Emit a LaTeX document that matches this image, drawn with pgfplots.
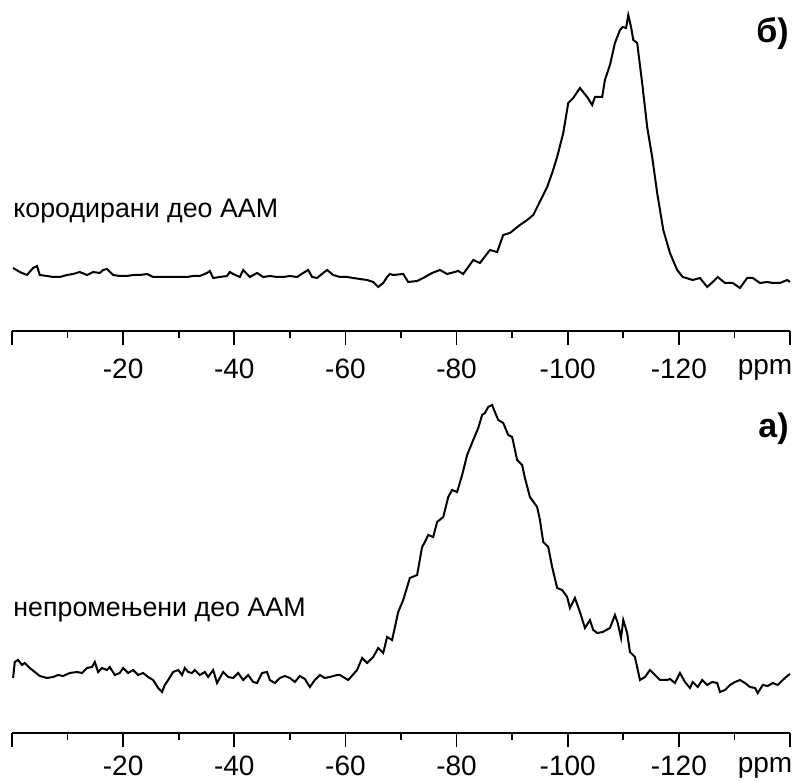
\documentclass[border=0pt]{standalone}
\usepackage{fontspec}
\setmainfont{Liberation Sans}
\usepackage{pgfplots}
\pgfplotsset{compat=1.18}
\begin{document}
\begin{tikzpicture}
\useasboundingbox (0,0) rectangle (399pt,390.5pt);
\pgfplotsset{spec/.style={
  scale only axis, width=389pt, height=165pt,
  xmin=-140, xmax=0, ymin=0, ymax=330, x dir=reverse,
  axis x line*=bottom, hide y axis, clip=false,
  axis line style={line width=0.9pt},
  xtick={0,-20,-40,-60,-80,-100,-120,-140},
  xticklabels={,-20,-40,-60,-80,-100,-120,},
  minor xtick={-10,-30,-50,-70,-90,-110,-130},
  tick align=outside, major tick length=7pt, minor tick length=3.5pt,
  tick style={line width=0.9pt, black},
  xticklabel style={font=\fontsize{14}{16}\selectfont, inner sep=1pt, yshift=-6pt},
  anchor=south west}}
% top panel (b)
\begin{axis}[spec, at={(6pt,225pt)}]
\addplot[black, line width=1pt] coordinates {
(-0.2,63)(-1.4,59)(-2.7,56)(-3.8,63)(-4.5,65)(-5.0,56)(-6.3,55)(-7.4,54)(-8.6,54)(-9.9,56)
(-11.0,57)(-12.2,59)(-13.5,56)(-14.6,59)(-15.8,58)(-16.4,61)(-17.1,62)(-18.2,56)(-19.4,55)(-20.7,55)
(-21.8,56)(-23.0,56)(-24.3,57)(-25.4,54)(-26.6,54)(-27.9,54)(-29.0,54)(-30.2,54)(-31.5,54)(-32.6,55)
(-33.8,55)(-35.1,58)(-35.6,60)(-36.2,53)(-37.4,54)(-38.7,55)(-39.2,59)(-39.8,57)(-41.0,54)(-41.6,61)
(-42.8,54)(-44.1,58)(-45.2,54)(-46.4,55)(-47.7,54)(-48.8,54)(-50.0,55)(-51.3,54)(-52.4,58)(-53.3,61)
(-54.0,54)(-54.9,53)(-56.0,58)(-56.7,61)(-57.8,56)(-59.0,54)(-60.3,54)(-61.4,53)(-62.6,52)(-63.9,51)
(-65.0,49)(-65.9,44)(-66.8,48)(-67.5,54)(-68.0,57)(-68.6,56)(-70.4,57)(-71.3,49)(-72.9,50)(-74.0,53)
(-75.6,58)(-77.0,61)(-78.3,57)(-80.3,60)(-81.2,57)(-83.0,71)(-84.2,68)(-86.0,81)(-87.3,79)(-88.4,96)
(-89.6,98)(-91.4,106)(-92.7,111)(-93.8,116)(-94.7,126)(-96.3,144)(-97.2,158)(-98.1,174)(-99.2,198)(-100.1,228)
(-101.0,233)(-102.2,243)(-103.5,234)(-104.4,226)(-104.9,234)(-106.2,234)(-106.7,251)(-107.6,266)(-108.5,288)(-109.4,301)
(-109.9,304)(-110.5,303)(-110.9,316)(-111.4,304)(-111.8,291)(-112.5,288)(-113.4,248)(-114.3,204)(-115.2,174)(-116.1,138)
(-117.2,101)(-118.4,78)(-119.7,61)(-120.7,54)(-122.5,51)(-123.8,53)(-125.1,44)(-126.1,49)(-127.0,54)(-128.3,48)
(-129.7,48)(-131.0,43)(-132.3,53)(-133.3,53)(-134.6,48)(-135.9,49)(-136.9,48)(-138.2,48)(-139.5,51)(-140.0,49)
};
\end{axis}
% bottom panel (a)
\begin{axis}[spec, at={(6pt,24pt)}, xticklabel style={yshift=2.5pt}]
\addplot[black, line width=1pt] coordinates {
(-0.2,55)(-0.5,71)(-1.1,73)(-1.8,68)(-2.3,70)(-3.2,65)(-4.1,61)(-5.0,57)(-6.3,55)(-7.4,56)
(-8.3,58)(-9.2,57)(-10.4,60)(-11.7,61)(-12.6,60)(-13.5,65)(-14.4,66)(-14.9,71)(-15.5,61)(-16.2,65)
(-17.1,63)(-17.6,66)(-18.5,58)(-19.4,60)(-20.0,65)(-20.9,60)(-21.8,63)(-22.7,58)(-23.6,60)(-24.5,56)
(-25.4,53)(-26.3,45)(-27.0,41)(-27.5,48)(-28.1,53)(-29.0,61)(-29.9,63)(-30.6,58)(-31.1,65)(-31.7,61)
(-32.4,60)(-32.9,63)(-33.8,58)(-34.7,61)(-35.3,56)(-36.2,63)(-36.9,50)(-37.4,55)(-38.0,61)(-38.9,56)
(-39.8,55)(-40.7,60)(-41.6,53)(-42.5,58)(-43.4,51)(-44.1,50)(-45.0,60)(-45.9,61)(-46.4,53)(-47.3,50)
(-48.2,55)(-49.1,57)(-50.0,55)(-50.9,51)(-51.8,57)(-52.7,54)(-53.6,46)(-54.5,53)(-55.4,58)(-56.3,55)
(-57.2,56)(-58.5,58)(-59.0,58)(-60.5,53)(-62.1,63)(-63.0,75)(-63.9,70)(-65.0,76)(-65.9,85)(-66.8,80)
(-67.5,96)(-68.4,93)(-69.5,121)(-70.4,133)(-71.6,155)(-72.9,158)(-73.8,186)(-74.3,191)(-74.9,198)(-75.8,196)
(-76.5,211)(-77.6,216)(-78.5,236)(-79.2,243)(-80.1,241)(-81.0,258)(-81.9,278)(-83.0,293)(-83.9,305)(-84.6,318)
(-85.1,320)(-85.7,326)(-86.4,328)(-86.9,321)(-87.5,313)(-88.4,310)(-89.3,298)(-90.0,296)(-90.9,273)(-91.8,268)
(-92.3,255)(-93.2,236)(-94.5,226)(-95.0,213)(-95.6,191)(-96.5,186)(-97.2,166)(-98.1,145)(-99.0,143)(-99.9,136)
(-100.4,125)(-101.3,135)(-102.2,121)(-103.1,105)(-104.0,113)(-104.6,103)(-105.3,100)(-106.3,101)(-107.6,105)(-108.5,118)
(-109.0,110)(-109.6,95)(-110.0,113)(-110.7,100)(-111.2,81)(-112.1,76)(-113.0,53)(-113.9,56)(-114.8,63)(-115.7,58)
(-116.6,53)(-117.9,53)(-118.4,54)(-119.3,50)(-120.2,60)(-121.1,51)(-122.0,45)(-122.5,51)(-123.4,46)(-124.2,53)
(-125.1,48)(-126.0,51)(-126.9,50)(-127.4,41)(-128.3,43)(-129.2,48)(-130.1,51)(-131.0,53)(-131.9,50)(-132.8,46)
(-133.7,45)(-134.2,40)(-135.1,48)(-136.0,47)(-136.9,50)(-137.8,48)(-138.7,53)(-139.5,57)(-140.0,59)
};
\end{axis}
\node[anchor=base, inner sep=0pt, font=\fontsize{14}{16}\selectfont] at (382.5pt,203pt) {ppm};
\node[anchor=base, inner sep=0pt, font=\fontsize{14}{16}\selectfont] at (382.5pt,4.2pt) {ppm};
\node[anchor=base west, inner sep=0pt, font=\fontsize{13.4}{16}\selectfont] at (6.5pt,281.5pt) {кородирани део ААМ};
\node[anchor=base west, inner sep=0pt, font=\fontsize{13.4}{16}\selectfont] at (6.5pt,82pt) {непромењени део ААМ};
\node[anchor=base east, inner sep=0pt, font=\bfseries\fontsize{17}{19}\selectfont] at (394.5pt,369pt) {б)};
\node[anchor=base east, inner sep=0pt, font=\bfseries\fontsize{17}{19}\selectfont] at (394.5pt,171.5pt) {а)};
\end{tikzpicture}
\end{document}
